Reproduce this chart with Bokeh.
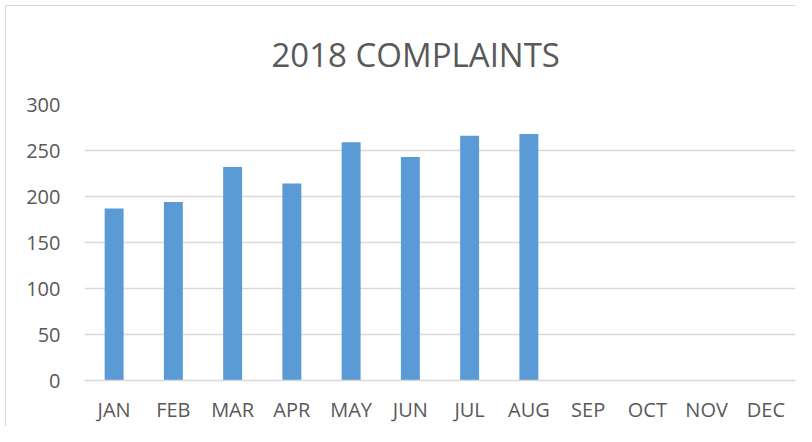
from bokeh.plotting import figure
from bokeh.models import ColumnDataSource, FixedTicker, Range1d
from bokeh.embed import file_html
from bokeh.resources import INLINE

months = ["JAN", "FEB", "MAR", "APR", "MAY", "JUN", "JUL", "AUG", "SEP", "OCT", "NOV", "DEC"]
data_months = ["JAN", "FEB", "MAR", "APR", "MAY", "JUN", "JUL", "AUG"]
complaints = [187, 194, 232, 214, 259, 243, 266, 268]
y_ticks = [0, 50, 100, 150, 200, 250, 300]
title_text = "2018 COMPLAINTS"

FONT = "Open Sans"
TEXT_COLOR = "#595959"
GRID = "#d9d9d9"

src = ColumnDataSource(dict(month=data_months, value=complaints))

p = figure(
    x_range=months,
    y_range=Range1d(0, 300),
    width=796,
    height=426,
    output_backend="svg",
    toolbar_location=None,
    min_border_left=84,
    min_border_right=1,
    min_border_top=104,
    min_border_bottom=46,
)
p.border_fill_color = None
p.styles = {"box-shadow": "inset 5px 5px 0 0 white, inset 6px 6px 0 0 #d9d9d9"}

p.vbar(x="month", top="value", width=0.32, source=src,
       fill_color="#5B9BD5", line_color=None)

p.outline_line_color = None
p.background_fill_color = "white"

p.xgrid.grid_line_color = None
p.ygrid.grid_line_color = GRID
p.ygrid.grid_line_width = 1.5
p.yaxis.ticker = FixedTicker(ticks=y_ticks)

p.yaxis.axis_line_color = None
p.yaxis.major_tick_line_color = None
p.yaxis.minor_tick_line_color = None
p.yaxis.major_tick_in = 0
p.yaxis.major_tick_out = 0
p.yaxis.major_label_standoff = 24
p.yaxis.major_label_text_font = FONT
p.yaxis.major_label_text_font_size = "20px"
p.yaxis.major_label_text_color = TEXT_COLOR

p.xaxis.axis_line_color = GRID
p.xaxis.axis_line_width = 1.5
p.xaxis.major_tick_line_color = None
p.xaxis.minor_tick_line_color = None
p.xaxis.major_tick_in = 0
p.xaxis.major_tick_out = 0
p.xaxis.major_label_standoff = 15
p.xaxis.major_label_text_font = FONT
p.xaxis.major_label_text_font_size = "20px"
p.xaxis.major_label_text_color = TEXT_COLOR

p.title.text = title_text
p.title.align = "left"
p.title.offset = 187
p.title.standoff = 55
p.title.text_font = FONT
p.title.text_font_size = "33px"
p.title.text_font_style = "normal"
p.title.text_color = TEXT_COLOR

open("out.html", "w").write(file_html(p, INLINE))
